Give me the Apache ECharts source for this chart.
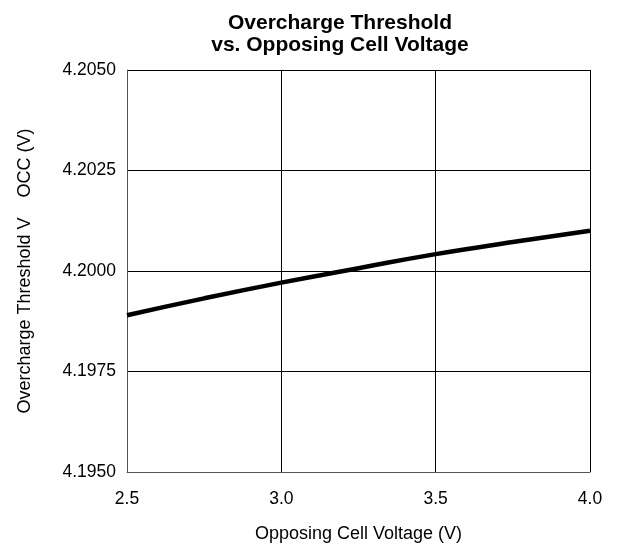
<!DOCTYPE html>
<html>
<head>
<meta charset="utf-8">
<script src="https://cdn.jsdelivr.net/npm/echarts@6/dist/echarts.min.js"></script>
<style>html,body{margin:0;padding:0;background:#fff}#c{width:619px;height:550px}</style>
</head>
<body>
<div id="c"></div>
<script>
var cellVoltage = [2.5, 2.75, 3.0, 3.25, 3.5, 3.75, 4.0];
var thresholdV = [4.19890, 4.19932, 4.19971, 4.20007, 4.20042, 4.20072, 4.20100];
var xTicks = [2.5, 3.0, 3.5, 4.0];
var yTicks = [4.1950, 4.1975, 4.2000, 4.2025, 4.2050];

var chart = echarts.init(document.getElementById('c'));
var font = '"Liberation Sans", Arial, Helvetica, sans-serif';
chart.setOption({
  animation: false,
  title: {
    text: 'Overcharge Threshold\nvs. Opposing Cell Voltage',
    left: 335, top: 7, textAlign: 'center',
    textStyle: {fontFamily: font, fontSize: 21, fontWeight: 'bold', color: '#000', lineHeight: 22}
  },
  grid: {left: 127, right: 29, top: 70, bottom: 78, containLabel: false},
  xAxis: {
    type: 'value', min: xTicks[0], max: xTicks[xTicks.length - 1], interval: 0.5,
    name: 'Opposing Cell Voltage (V)', nameLocation: 'middle', nameGap: 53,
    nameTextStyle: {fontFamily: font, fontSize: 18, color: '#000'},
    axisLine: {show: true, lineStyle: {color: '#555', width: 1}},
    axisTick: {show: false},
    axisLabel: {fontFamily: font, fontSize: 17.5, color: '#000', margin: 18,
      formatter: function (v) { return v.toFixed(1); }},
    splitLine: {show: true, lineStyle: {color: '#000', width: 1}}
  },
  yAxis: {
    type: 'value', min: yTicks[0], max: yTicks[yTicks.length - 1], interval: 0.0025,
    name: 'Overcharge Threshold V    OCC (V)', nameLocation: 'middle', nameGap: 93,
    nameTextStyle: {fontFamily: font, fontSize: 18, color: '#000'},
    axisLine: {show: true, lineStyle: {color: '#555', width: 1}},
    axisTick: {show: false},
    axisLabel: {fontFamily: font, fontSize: 17.5, color: '#000', margin: 11,
      formatter: function (v) { return v.toFixed(4); }},
    splitLine: {show: true, lineStyle: {color: '#000', width: 1}}
  },
  series: [{
    type: 'line', smooth: true, symbol: 'none',
    data: cellVoltage.map(function (x, i) { return [x, thresholdV[i]]; }),
    lineStyle: {color: '#000', width: 4.5}
  }]
});
</script>
</body>
</html>
